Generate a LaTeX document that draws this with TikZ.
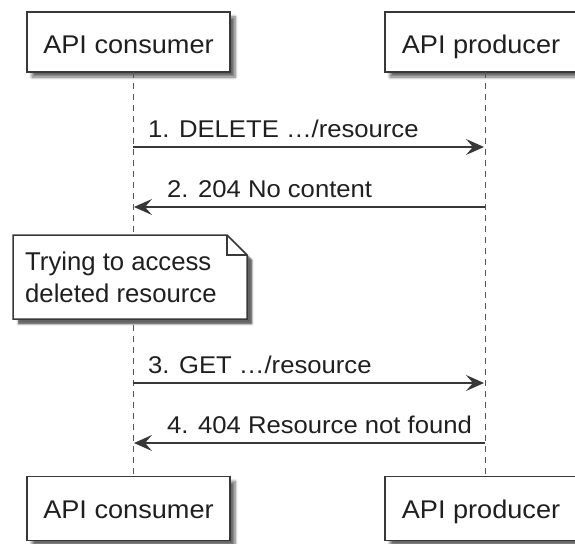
\documentclass[tikz,border=0pt]{standalone}
\usepackage{fontspec}
\setmainfont{Liberation Sans}
\newfontfamily\wideface[FakeStretch=1.06]{Liberation Sans}
\usetikzlibrary{arrows.meta,shadows.blur}
\definecolor{ink}{HTML}{383838}
\definecolor{lifeg}{HTML}{555555}
\begin{document}
\begin{tikzpicture}[x=1pt,y=-1pt,
  partbox/.style={draw=ink, line width=1.5pt, fill=white, minimum width=203pt, minimum height=60pt, inner sep=0pt,
    text height=24pt, text depth=2pt,
    font=\wideface\fontsize{25.6}{30}\selectfont, text=black!88,
    blur shadow={shadow xshift=5pt, shadow yshift=-5pt, shadow blur steps=6, shadow opacity=60, shadow blur radius=3pt}},
  lifeline/.style={draw=lifeg, line width=1pt, dash pattern=on 6pt off 5pt},
  msg/.style={draw=ink, line width=1.5pt, -{Stealth[length=18pt, width=16pt, inset=7pt]}},
  lbl/.style={font=\wideface\fontsize{24.2}{30}\selectfont, text=black!88, inner sep=0pt, anchor=base west},
  notetxt/.style={font=\fontsize{25.7}{32}\selectfont, text=black!88, inner sep=0pt, anchor=base west}
]
\useasboundingbox (0,0) rectangle (575,543);
\begin{scope}
\clip (0,0) rectangle (575,543);
% participants
\node[partbox] (ct) at (128.5,42) {API consumer};
\node[partbox, minimum width=192pt] (pt) at (481,42) {API producer};
\node[partbox, minimum height=64pt, text height=22pt, text depth=3pt] (cb) at (128.5,508.5) {API consumer};
\node[partbox, minimum width=192pt, minimum height=64pt, text height=22pt, text depth=3pt] (pb) at (481,508.5) {API producer};
\end{scope}
% lifeline coordinates
\coordinate (cl0) at (133,72);
\coordinate (cl1) at (133,476);
\coordinate (pl0) at (485,72);
\coordinate (pl1) at (485,476);
\draw[lifeline] (cl0) -- (cl1);
\draw[lifeline] (pl0) -- (pl1);
% note
\fill[black, opacity=0.35, blur shadow={shadow xshift=0pt, shadow yshift=0pt}] (18,240) -- (232,240) -- (252,260) -- (252,324) -- (18,324) -- cycle;
\filldraw[draw=ink, line width=1.5pt, fill=white] (13,235) -- (227,235) -- (247,255) -- (247,319) -- (13,319) -- cycle;
\draw[draw=ink, line width=1.5pt] (227,235) -- (227,255) -- (247,255);
\node[notetxt] (note1) at (25,270) {Trying to access};
\node[notetxt] (note2) at (25,302) {deleted resource};
% messages
\coordinate (m1a) at (133,147); \coordinate (m1b) at (484,147);
\coordinate (m2a) at (485,207); \coordinate (m2b) at (134,207);
\coordinate (m3a) at (133,383); \coordinate (m3b) at (484,383);
\coordinate (m4a) at (485,443); \coordinate (m4b) at (134,443);
\draw[msg] (m1a) -- (m1b);
\draw[msg] (m2a) -- (m2b);
\draw[msg] (m3a) -- (m3b);
\draw[msg] (m4a) -- (m4b);
\node[lbl] (l1) at (148,137) {1. DELETE …/resource};
\node[lbl] (l2) at (167,197) {2. 204 No content};
\node[lbl] (l3) at (148,373) {3. GET …/resource};
\node[lbl] (l4) at (167,433) {4. 404 Resource not found};
\end{tikzpicture}
\end{document}
